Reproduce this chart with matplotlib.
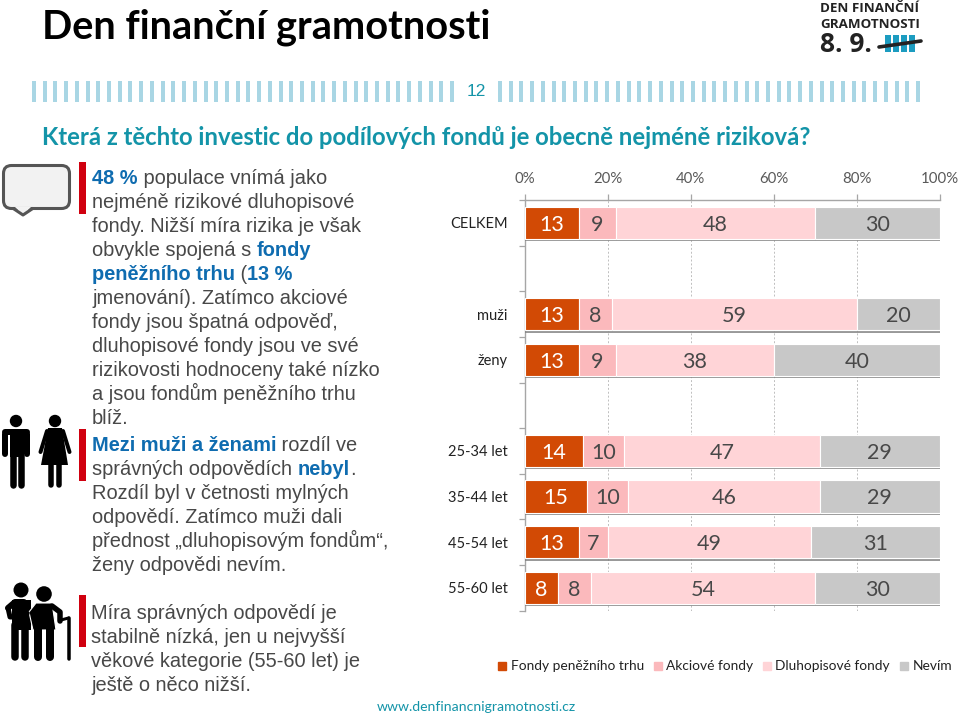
import matplotlib
matplotlib.use("Agg")
import matplotlib.pyplot as plt
import matplotlib.patheffects as pe
from matplotlib.lines import Line2D
from matplotlib.patches import Circle, FancyBboxPatch, Polygon, Rectangle

# Data
categories = ["CELKEM", "muži", "ženy", "25-34 let", "35-44 let", "45-54 let", "55-60 let"]
rows = [0.5, 2.5, 3.5, 5.5, 6.5, 7.5, 8.5]
series = ["Fondy peněžního trhu", "Akciové fondy", "Dluhopisové fondy", "Nevím"]
money_market = [13, 13, 13, 14, 15, 13, 8]
shares = [9, 8, 9, 10, 10, 7, 8]
bonds = [48, 59, 38, 47, 46, 49, 54]
dont_know = [30, 20, 40, 29, 29, 31, 30]
x_ticks = [0, 20, 40, 60, 80, 100]

colors = ["#D24A05", "#FBB9BC", "#FFD4D7", "#C8C8C8"]
label_colors = ["white", "#484848", "#484848", "#484848"]
BLUE = "#0F6CB0"
GREY = "#484848"
TEAL = "#1394A8"
RED = "#D0000F"

W, H = 960, 716
fig = plt.figure(figsize=(9.6, 7.16), dpi=100)

# overlay in pixel coordinates for the slide furniture
bg = fig.add_axes([0, 0, 1, 1])
bg.set_xlim(0, W)
bg.set_ylim(H, 0)
bg.axis("off")

bg.text(42, 39, "Den finanční gramotnosti", family="Lato", fontsize=28.6, fontweight="bold", color="black")
bg.text(42, 145, "Která z těchto investic do podílových fondů je obecně nejméně riziková?",
        family="Lato", fontsize=17.2, fontweight="bold", color=TEAL)
bg.text(476, 96, "12", family="Liberation Sans", fontsize=12.5, color=TEAL, ha="center")

# tally stripes
for i in range(40):
    bg.add_patch(Rectangle((32 + i * 10.72, 81), 4, 21, color="#A9D6E4", lw=0))
    bg.add_patch(Rectangle((498 + i * 10.72, 81), 4, 21, color="#A9D6E4", lw=0))

# logo
bg.text(820, 12, "DEN FINANČNÍ", family="Open Sans", fontsize=9.6, fontweight="bold", color="#222222")
bg.text(820, 28, "GRAMOTNOSTI", family="Open Sans", fontsize=9.6, fontweight="bold", color="#222222")
bg.text(820, 52, "8. 9.", family="Open Sans", fontsize=19, fontweight="bold", color="#222222")
for x in [885, 893, 901, 909]:
    bg.add_patch(Rectangle((x, 35), 5.5, 17, color="#1C9CC0", lw=0))
bg.plot([879, 921], [47, 41], color="#222222", lw=2.6, solid_capstyle="round")

# left column text, each line a list of (text, bold)
renderer = fig.canvas.get_renderer()
TEXT_SIZE = 14.4


def draw_line(x, y, runs):
    for txt, bold in runs:
        t = bg.text(x, y, txt, family="Liberation Sans", fontsize=TEXT_SIZE,
                    fontweight="bold" if bold else "normal", color=BLUE if bold else GREY)
        x += t.get_window_extent(renderer).width


block_1 = [
    [("48 %", True), (" populace vnímá jako", False)],
    [("nejméně rizikové dluhopisové", False)],
    [("fondy. Nižší míra rizika je však", False)],
    [("obvykle spojená s ", False), ("fondy", True)],
    [("peněžního trhu", True), (" (", False), ("13 %", True)],
    [("jmenování). Zatímco akciové", False)],
    [("fondy jsou špatná odpověď,", False)],
    [("dluhopisové fondy jsou ve své", False)],
    [("rizikovosti hodnoceny také nízko", False)],
    [("a jsou fondům peněžního trhu", False)],
    [("blíž.", False)],
]
block_2 = [
    [("Mezi muži a ženami", True), (" rozdíl ve", False)],
    [("správných odpovědích ", False), ("nebyl", True), (".", False)],
    [("Rozdíl byl v četnosti mylných", False)],
    [("odpovědí. Zatímco muži dali", False)],
    [("přednost „dluhopisovým fondům“,", False)],
    [("ženy odpovědi nevím.", False)],
]
block_3 = [
    [("Míra správných odpovědí je", False)],
    [("stabilně nízká, jen u nejvyšší", False)],
    [("věkové kategorie (55-60 let) je", False)],
    [("ještě o něco nižší.", False)],
]
for block, x0, y0 in [(block_1, 92, 184), (block_2, 92, 451), (block_3, 91, 619)]:
    for i, line in enumerate(block):
        draw_line(x0, y0 + i * 24.05, line)

for y in [162, 429, 595]:
    bg.add_patch(Rectangle((79, y), 6.5, 52, color=RED, lw=0))

# speech bubble
bg.add_patch(FancyBboxPatch((9, 171), 55, 32, boxstyle="round,pad=5.5,rounding_size=8",
                            fc="#F2F2F2", ec="#555555", lw=2.2))
bg.add_patch(Polygon([[15, 207], [23, 215], [31, 207]], color="#F2F2F2", lw=0))
bg.plot([14, 23, 32], [209, 215, 209], color="#555555", lw=2.2, solid_joinstyle="round")


def limb(xs, ys, w):
    bg.plot(xs, ys, color="black", lw=w * 0.72, solid_capstyle="round", solid_joinstyle="round")


# man
bg.add_patch(Circle((16, 421), 6.2, color="black", lw=0))
bg.add_patch(Rectangle((9.5, 431), 14, 26, color="black", lw=0))
limb([5, 5], [434, 454], 6)
limb([27, 27], [434, 454], 6)
limb([5, 27], [431.5, 431.5], 6)
limb([12.5, 12.5], [455, 485], 6.5)
limb([20.5, 20.5], [455, 485], 6.5)
# woman
bg.add_patch(Circle((55, 421), 6.2, color="black", lw=0))
bg.add_patch(Polygon([[48, 428], [62, 428], [68, 465], [41, 465]], color="black", lw=0))
limb([47, 40.5], [431, 452], 4)
limb([63, 69.5], [431, 452], 4)
limb([50.5, 50.5], [463, 485], 5.5)
limb([58.5, 58.5], [463, 485], 5.5)

# elderly couple
bg.add_patch(Circle((21, 590), 7.5, color="black", lw=0))
bg.add_patch(Rectangle((12, 600), 19, 30, color="black", lw=0))
limb([8, 15, 24], [608, 602, 602], 6)
limb([8, 10, 25], [608, 617, 617], 5)
limb([15, 15], [625, 657], 7.5)
limb([25, 25], [625, 657], 7.5)
bg.add_patch(Circle((44, 594), 7.8, color="black", lw=0))
bg.add_patch(Polygon([[29, 612], [36, 603], [52, 603], [56, 630], [33, 630]], fc="black", ec="white", lw=0.8))
limb([52, 60, 60], [606, 612, 621], 5.5)
limb([28, 24, 24], [613, 625, 631], 3.5)
limb([38, 38], [625, 657], 8)
limb([50, 50], [625, 657], 8)
limb([68.5, 68.5], [618, 659], 3.5)
limb([61, 68.5], [620, 618], 3)

# stacked bars
ax = fig.add_axes([524.5 / W, 1 - 610.7 / H, 415.5 / W, 410.7 / H], facecolor="none")
left = [0] * len(categories)
for name, vals, col, lab_col in zip(series, [money_market, shares, bonds, dont_know], colors, label_colors):
    bars = ax.barh(rows, vals, left=left, height=0.71, color=col, edgecolor="white", linewidth=0.8,
                   label=name, zorder=3)
    for b in bars:
        b.set_path_effects([pe.SimplePatchShadow(offset=(0, -1.6), shadow_rgbFace="#808080", alpha=0.8), pe.Normal()])
    for r, v, l in zip(rows, vals, left):
        ax.text(l + v / 2, r + 0.04, str(v), ha="center", va="center", family="Lato", fontsize=15.5,
                color=lab_col, zorder=4)
    left = [l + v for l, v in zip(left, vals)]

ax.set_xlim(0, 100)
ax.set_ylim(9, 0)
ax.xaxis.tick_top()
ax.set_xticks(x_ticks)
ax.set_xticklabels([f"{v}%" for v in x_ticks], family="Lato", fontsize=10.8, color="#595959")
ax.set_yticks(range(10))
ax.set_yticklabels([])
ax.set_yticks(rows, labels=categories, minor=True, family="Lato", fontsize=10.5, color="#222222")
ax.tick_params(axis="y", which="minor", length=0, pad=12)
ax.tick_params(axis="y", which="major", length=4, color="#A6A6A6", width=0.9)
ax.tick_params(axis="x", length=4, color="#A6A6A6", width=0.9, pad=6)
ax.grid(True, axis="x", linestyle=(0, (2, 2)), color="#BFBFBF", linewidth=0.7, zorder=0)
for side in ["right", "bottom"]:
    ax.spines[side].set_visible(False)
for side in ["left", "top"]:
    ax.spines[side].set_color("#A6A6A6")
    ax.spines[side].set_linewidth(1.0)
ax.set_axisbelow(True)

handles = [Line2D([], [], ls="none", marker="s", markersize=5.5, color=c) for c in colors]
fig.legend(handles, series, loc="center right", bbox_to_anchor=(952 / W, 1 - 666.5 / H), frameon=False,
           ncol=4, prop={"family": "Lato", "size": 9.9}, handlelength=0.6, handletextpad=0.3,
           columnspacing=0.72, labelcolor="#222222", borderpad=0, borderaxespad=0)

bg.text(377, 711, "www.denfinancnigramotnosti.cz", family="Lato", fontsize=10.1, color=TEAL)

fig.savefig("out.png", dpi=100)
